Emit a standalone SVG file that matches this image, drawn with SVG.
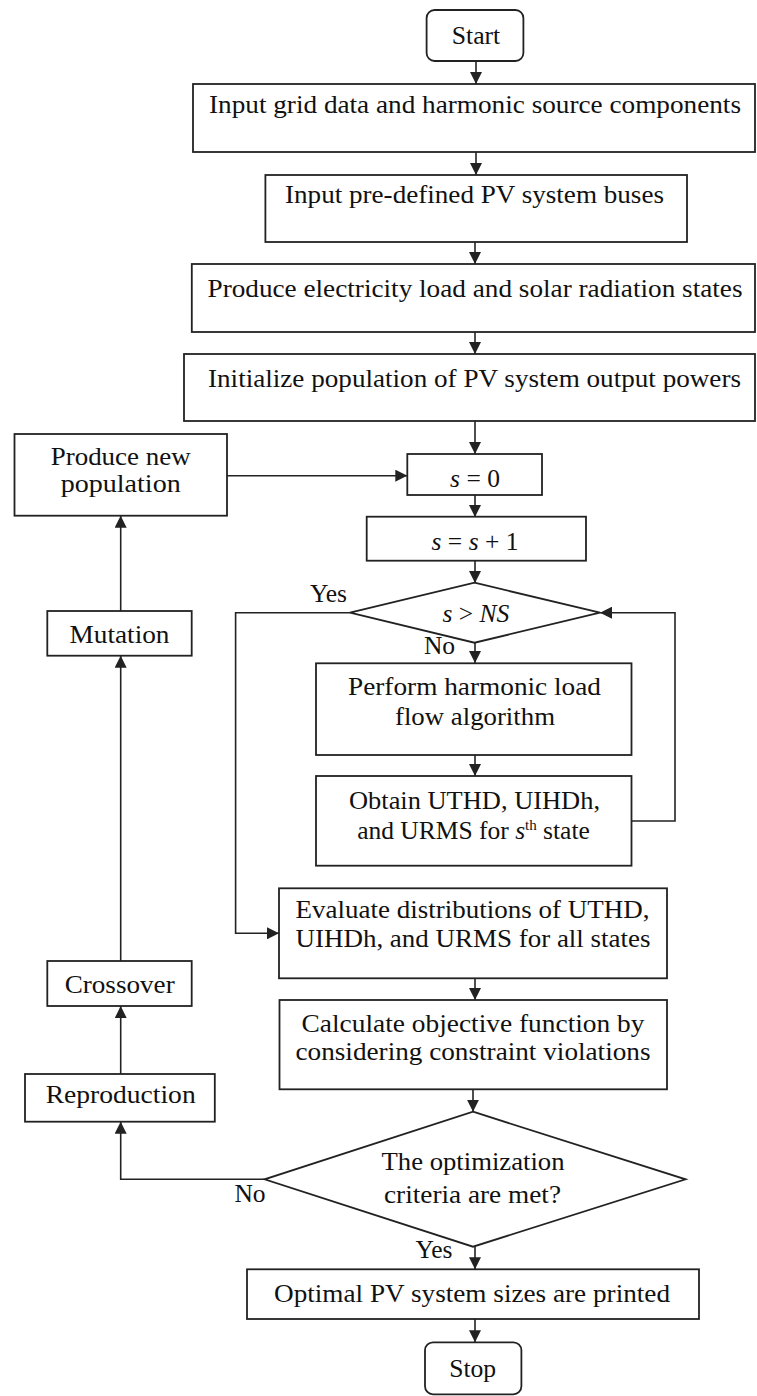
<svg xmlns="http://www.w3.org/2000/svg" width="757" height="1396" viewBox="0 0 757 1396">
<defs>
<style>
.b{fill:#fff;stroke:#222;stroke-width:1.8}
.c{fill:none;stroke:#222;stroke-width:1.6}
text{font-family:"Liberation Serif","Times New Roman",serif;font-size:25.5px;fill:#111;text-anchor:middle}
.i{font-style:italic}
</style>
<marker id="arr" markerWidth="12" markerHeight="12" refX="12" refY="6" orient="auto" markerUnits="userSpaceOnUse"><path d="M0,0 L12,6 L0,12 z" fill="#222"/></marker>
</defs>
<rect width="757" height="1396" fill="#fff"/>
<g id="connectors">
<path class="c" d="M476,61 V84" marker-end="url(#arr)"/>
<path class="c" d="M476,152 V175" marker-end="url(#arr)"/>
<path class="c" d="M475,242 V264" marker-end="url(#arr)"/>
<path class="c" d="M475,332 V354" marker-end="url(#arr)"/>
<path class="c" d="M475,421 V454" marker-end="url(#arr)"/>
<path class="c" d="M475,495 V517" marker-end="url(#arr)"/>
<path class="c" d="M475,561 V583" marker-end="url(#arr)"/>
<path class="c" d="M475,643 V663" marker-end="url(#arr)"/>
<path class="c" d="M475,755 V776" marker-end="url(#arr)"/>
<path class="c" d="M631.5,821 H675 V612.7 H600" marker-end="url(#arr)"/>
<path class="c" d="M350,612.7 H235.6 V933.3 H279" marker-end="url(#arr)"/>
<path class="c" d="M475,978 V1000" marker-end="url(#arr)"/>
<path class="c" d="M473,1089 V1111.7" marker-end="url(#arr)"/>
<path class="c" d="M264.6,1179.3 H120.7 V1121.7" marker-end="url(#arr)"/>
<path class="c" d="M120.7,1074 V1006" marker-end="url(#arr)"/>
<path class="c" d="M120.7,961 V655.7" marker-end="url(#arr)"/>
<path class="c" d="M120.7,611 V515.7" marker-end="url(#arr)"/>
<path class="c" d="M227,475.7 H407.3" marker-end="url(#arr)"/>
<path class="c" d="M475,1246.7 V1269.3" marker-end="url(#arr)"/>
<path class="c" d="M475,1319 V1342.3" marker-end="url(#arr)"/>
</g>
<g id="start"><rect class="b" x="426.6" y="10" width="96.8" height="51" rx="8"/><text x="476" y="43.5" textLength="48.5" lengthAdjust="spacingAndGlyphs">Start</text></g>
<g id="input-grid"><rect class="b" x="193" y="84" width="562" height="68"/><text x="475" y="113" textLength="532" lengthAdjust="spacingAndGlyphs">Input grid data and harmonic source components</text></g>
<g id="input-pv"><rect class="b" x="265.4" y="175" width="421.6" height="67"/><text x="474.5" y="203" textLength="379" lengthAdjust="spacingAndGlyphs">Input pre-defined PV system buses</text></g>
<g id="produce-states"><rect class="b" x="191.8" y="264" width="563.2" height="68"/><text x="475" y="297" textLength="535" lengthAdjust="spacingAndGlyphs">Produce electricity load and solar radiation states</text></g>
<g id="initialize"><rect class="b" x="184" y="354" width="571" height="67"/><text x="474.5" y="387" textLength="533" lengthAdjust="spacingAndGlyphs">Initialize population of PV system output powers</text></g>
<g id="produce-new"><rect class="b" x="14.5" y="434" width="212.5" height="81.7"/><text x="120.7" y="465" textLength="140" lengthAdjust="spacingAndGlyphs">Produce new</text><text x="120.7" y="492" textLength="120" lengthAdjust="spacingAndGlyphs">population</text></g>
<g id="s0"><rect class="b" x="407.3" y="454" width="134.7" height="41"/><text x="475" y="486.7"><tspan class="i">s</tspan> = 0</text></g>
<g id="s-inc"><rect class="b" x="366.7" y="516.7" width="219.3" height="44"/><text x="475" y="550"><tspan class="i">s</tspan> = <tspan class="i">s</tspan> + 1</text></g>
<g id="dec-ns"><polygon class="b" points="474.5,582.7 600,612.7 474.5,642.7 350,612.7"/><text x="475.8" y="621.7"><tspan class="i">s</tspan> &gt; <tspan class="i">NS</tspan></text></g>
<g id="mutation"><rect class="b" x="47.3" y="611" width="144.4" height="44.7"/><text x="119.5" y="643.3" textLength="100" lengthAdjust="spacingAndGlyphs">Mutation</text></g>
<g id="perform"><rect class="b" x="316" y="663.3" width="315.5" height="91.7"/><text x="474.5" y="695" textLength="253" lengthAdjust="spacingAndGlyphs">Perform harmonic load</text><text x="475" y="725" textLength="160" lengthAdjust="spacingAndGlyphs">flow algorithm</text></g>
<g id="obtain"><rect class="b" x="316" y="776" width="315.5" height="89.7"/><text x="474.5" y="809" textLength="251" lengthAdjust="spacingAndGlyphs">Obtain UTHD, UIHDh,</text><text x="473.5" y="839">and URMS for <tspan class="i">s</tspan><tspan font-size="15" dy="-9">th</tspan><tspan dy="9"> state</tspan></text></g>
<g id="evaluate"><rect class="b" x="279" y="888.3" width="388" height="90"/><text x="472.5" y="918" textLength="354" lengthAdjust="spacingAndGlyphs">Evaluate distributions of UTHD,</text><text x="473" y="947" textLength="355" lengthAdjust="spacingAndGlyphs">UIHDh, and URMS for all states</text></g>
<g id="crossover"><rect class="b" x="47.3" y="961" width="144.4" height="45"/><text x="119.7" y="993.3" textLength="110" lengthAdjust="spacingAndGlyphs">Crossover</text></g>
<g id="calculate"><rect class="b" x="279.5" y="1000" width="387.5" height="89.3"/><text x="473" y="1031.7" textLength="343" lengthAdjust="spacingAndGlyphs">Calculate objective function by</text><text x="473" y="1060" textLength="355" lengthAdjust="spacingAndGlyphs">considering constraint violations</text></g>
<g id="reproduction"><rect class="b" x="25" y="1074" width="189.8" height="47.7"/><text x="120.7" y="1103.3" textLength="150" lengthAdjust="spacingAndGlyphs">Reproduction</text></g>
<g id="dec-criteria"><polygon class="b" points="473,1111.7 685.6,1179.3 473,1246.7 264.6,1179.3"/><text x="473" y="1170" textLength="183" lengthAdjust="spacingAndGlyphs">The optimization</text><text x="472.5" y="1203.3" textLength="177" lengthAdjust="spacingAndGlyphs">criteria are met?</text></g>
<g id="optimal"><rect class="b" x="247" y="1269.3" width="452" height="49.7"/><text x="472" y="1302" textLength="396" lengthAdjust="spacingAndGlyphs">Optimal PV system sizes are printed</text></g>
<g id="stop"><rect class="b" x="425" y="1342.3" width="96.4" height="52" rx="8"/><text x="472.7" y="1377" textLength="47" lengthAdjust="spacingAndGlyphs">Stop</text></g>
<g id="labels">
<text x="328.5" y="601.7">Yes</text>
<text x="439.5" y="654">No</text>
<text x="250" y="1201.7">No</text>
<text x="434" y="1258.3">Yes</text>
</g>
</svg>
